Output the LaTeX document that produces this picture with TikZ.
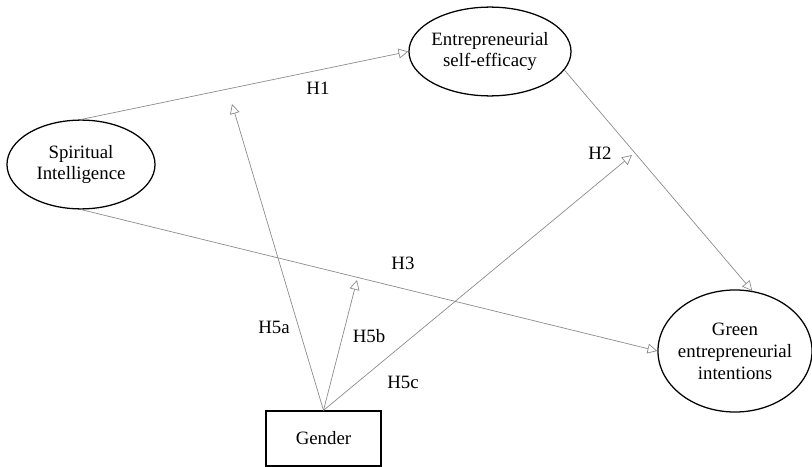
\documentclass[tikz,border=0pt]{standalone}
\usepackage{fontspec}
\setmainfont{Liberation Serif}
\usetikzlibrary{arrows.meta, shapes.geometric}

\tikzset{
  construct/.style={ellipse, draw, line width=0.9pt, align=center, inner xsep=-3pt, inner ysep=0pt},
  observed/.style={rectangle, draw, line width=0.9pt},
  hpath/.style={draw=black!45, line width=0.5pt, -{Triangle[open, length=7pt, width=7pt]}}
}

\begin{document}
\begin{tikzpicture}[x=0.025cm, y=-0.025cm, font=\fontsize{13.4}{15.6}\selectfont]
\useasboundingbox (0,0) rectangle (812,467);
% constructs
\node[construct, minimum width=3.7cm, minimum height=2.22cm] (spirit) at (81,164.5) {Spiritual\\Intelligence};
\node[construct, minimum width=4.05cm, minimum height=2.22cm] (efficacy) at (490,51.5) {Entrepreneurial\\self-efficacy};
\node[construct, minimum width=3.85cm, minimum height=3.05cm] (green) at (735,351) {Green\\entrepreneurial\\intentions};
\node[observed, minimum width=2.875cm, minimum height=1.375cm] (gender) at (323.5,438.5) {Gender};

% direct paths
\draw[hpath] (spirit.north) -- (efficacy.west);
\draw[hpath] (spirit.south) -- (green.west);
\draw[hpath] (efficacy.-14) -- (green.74);

% moderation by gender
\coordinate (mod1) at (232,104);
\coordinate (mod2) at (357,280);
\coordinate (mod3) at (632,155);
\draw[hpath] (gender.north) -- (mod1);
\draw[hpath] (gender.north) -- (mod2);
\draw[hpath] (gender.north) -- (mod3);

% hypotheses
\node (h1) at (318,88) {H1};
\node (h2) at (600,153) {H2};
\node (h3) at (403,263) {H3};
\node (h5a) at (274,327) {H5a};
\node (h5b) at (369,336) {H5b};
\node (h5c) at (403,382) {H5c};
\end{tikzpicture}
\end{document}
